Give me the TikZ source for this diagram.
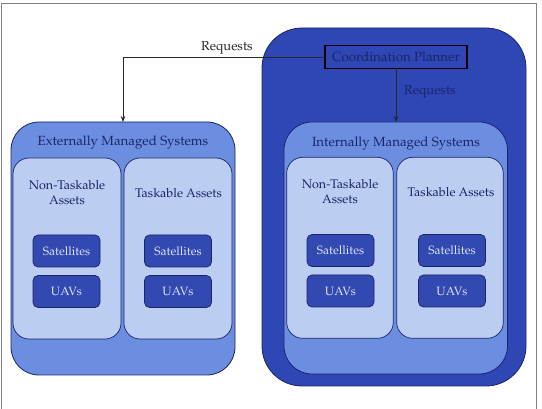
\documentclass[tikz,border=0pt]{standalone}
\usepackage[T1]{fontenc}
\usepackage{mathpazo}
\usetikzlibrary{arrows.meta}
\definecolor{darkblue}{HTML}{2F47B4}
\definecolor{midblue}{HTML}{6B8EE0}
\definecolor{lightblue}{HTML}{BBCDF1}
\definecolor{boxblue}{HTML}{3249B2}
\definecolor{navy}{HTML}{1B2468}
\definecolor{boxtext}{HTML}{DCE3F7}
\definecolor{framegray}{HTML}{808080}
\tikzset{
  base/.style={inner sep=0pt, outer sep=0pt},
  outerbox/.style={base, draw=navy, fill=darkblue, rounded corners=40pt, line width=0.8pt},
  sysbox/.style={base, draw=navy, fill=midblue, rounded corners=28pt, line width=0.8pt},
  panel/.style={base, draw=navy, fill=lightblue, rounded corners=16pt, line width=0.7pt},
  asset/.style={base, draw=navy, fill=boxblue, rounded corners=5pt, line width=0.7pt,
    minimum width=67pt, minimum height=32pt, text=boxtext, font=\fontsize{12}{14}\selectfont},
  title/.style={text=navy, font=\fontsize{13.3}{16}\selectfont},
  ptext/.style={text=navy, align=center, font=\fontsize{12.5}{15}\selectfont},
  conn/.style={draw=black!85, line width=0.8pt, -{Stealth[length=6pt,width=4.5pt]}},
}
\begin{document}
\begin{tikzpicture}[x=1pt,y=-1pt]
\useasboundingbox (0,0) rectangle (542,409);
% frame
\draw[framegray, line width=1pt] (1,409) -- (1,4) -- (536,4) -- (536,409);
% outer coordination box
\node[outerbox, minimum width=264pt, minimum height=358pt] (outer) at (394,207) {};
\node[base, draw=black, line width=1.5pt, fill=darkblue, minimum width=142pt, minimum height=22.6pt,
  text=navy, font=\fontsize{13.3}{16}\selectfont] (planner) at (396,57) {Coordination Planner};
% system boxes
\node[sysbox, minimum width=224pt, minimum height=253pt] (ext) at (123,248.5) {};
\node[sysbox, minimum width=223.5pt, minimum height=252pt] (int) at (395.75,248) {};
% titles
\node[title] (exttitle) at (123,143) {Externally Managed Systems};
\node[title] (inttitle) at (396,144) {Internally Managed Systems};
% panels
\node[panel, minimum width=108pt, minimum height=181pt] (extnt) at (67,248.5) {};
\node[panel, minimum width=108pt, minimum height=181pt] (extt) at (178,248.5) {};
\node[panel, minimum width=106.6pt, minimum height=181pt] (intnt) at (340,247.8) {};
\node[panel, minimum width=106.6pt, minimum height=181pt] (intt) at (450,247.8) {};
% panel texts
\node[ptext] (extntl) at (67,192.5) {Non-Taskable\\Assets};
\node[ptext] (exttl) at (178.5,193) {Taskable Assets};
\node[ptext] (intntl) at (340,191.5) {Non-Taskable\\Assets};
\node[ptext] (inttl) at (451,192) {Taskable Assets};
% assets
\node[asset] (es1) at (66.5,251) {Satellites};
\node[asset] (eu1) at (66.5,291.5) {UAVs};
\node[asset] (es2) at (178,251) {Satellites};
\node[asset] (eu2) at (178,291.5) {UAVs};
\node[asset] (is1) at (340.5,250.5) {Satellites};
\node[asset] (iu1) at (340.5,291) {UAVs};
\node[asset] (is2) at (452,250.5) {Satellites};
\node[asset] (iu2) at (452,291) {UAVs};
% connectors
\draw[conn] (planner.west) -| (ext.north);
\draw[conn] (planner.south) -- (planner.south |- int.north);
\node[text=black!85, font=\fontsize{13}{15}\selectfont] (reqa) at (227,48) {Requests};
\node[text=navy, font=\fontsize{13}{15}\selectfont] (reqb) at (430,92) {Requests};
\end{tikzpicture}
\end{document}
